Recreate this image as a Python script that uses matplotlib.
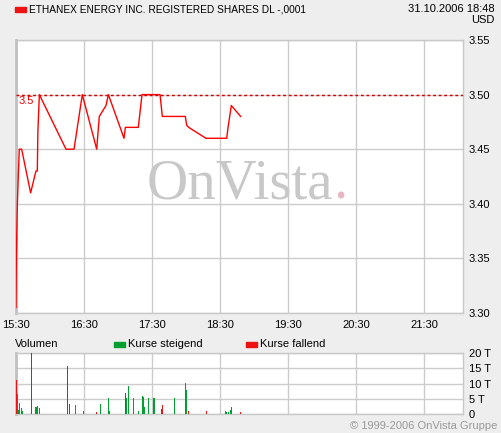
import matplotlib
matplotlib.use("Agg")
import matplotlib.pyplot as plt
from matplotlib.patches import Rectangle

plt.rcParams['font.family'] = ['Liberation Sans', 'DejaVu Sans']

# ---- data ----
title = "ETHANEX ENERGY INC. REGISTERED SHARES DL -,0001"
stamp = "31.10.2006 18:48"
currency = "USD"
hour_labels = ["15:30", "16:30", "17:30", "18:30", "19:30", "20:30", "21:30"]
price_ticks = [3.30, 3.35, 3.40, 3.45, 3.50, 3.55]
ref_price = 3.50

# minutes after 15:30
price_t = [0, 0.3, 1.2, 2.0, 2.9, 5.0, 12.9, 17.6, 18.8, 19.3, 20.6, 44.1, 51.2, 58.5,
           71.2, 73.5, 79.4, 81.5, 95.3, 96.5, 107.9, 111.2, 127.1, 129.1, 149.4,
           150.6, 152.4, 167.6, 185.9, 187.1, 190.0, 198.2]
price_v = [3.305, 3.352, 3.40, 3.425, 3.45, 3.45, 3.41, 3.43, 3.43, 3.466, 3.50, 3.45, 3.45, 3.50,
           3.45, 3.48, 3.49, 3.50, 3.46, 3.47, 3.47, 3.50, 3.50, 3.48, 3.48,
           3.472, 3.47, 3.46, 3.46, 3.47, 3.49, 3.48]

vol_t = [0, 0.9, 1.8, 2.9, 4.7, 5.6, 13.5, 17.1, 17.9, 18.8, 20.6, 45.6, 47.1, 52.6, 59.4,
         70.9, 74.4, 81.5, 82.4, 96.5, 97.4, 99.1, 103.5, 107.9, 111.5, 112.4, 113.2,
         116.8, 121.2, 122.1, 128.2, 129.1, 139.7, 149.4, 150.3, 152.1, 167.9, 184.7,
         185.6, 187.4, 189.1, 190.0, 197.9]
vol_v = [11.2, 6.6, 1.3, 3.7, 2.0, 1.1, 20.5, 2.4, 2.4, 2.7, 2.0, 15.8, 3.3, 3.1, 1.0,
         0.7, 3.3, 5.3, 1.0, 6.9, 5.3, 9.2, 5.3, 1.0, 5.9, 5.6, 2.3,
         5.3, 5.3, 5.3, 1.6, 3.0, 5.3, 10.2, 7.9, 1.0, 1.0, 1.0,
         0.8, 0.8, 1.3, 2.3, 0.7]
vol_up = [0, 1, 1, 1, 1, 1, 0, 1, 1, 1, 1, 0, 0, 1, 1,
          0, 1, 1, 1, 0, 1, 1, 1, 1, 1, 1, 1,
          1, 1, 1, 0, 0, 1, 1, 1, 0, 0, 1,
          1, 1, 1, 1, 0]
vol_ticks = [0, 5, 10, 15, 20]
vol_labels = ["0", "5 T", "10 T", "15 T", "20 T"]

# ---- layout ----
W, H = 501, 433
fig = plt.figure(figsize=(W / 100, H / 100), dpi=100)
fig.patch.set_facecolor('#eeeeee')

def ax_px(l, t, r, b):
    return fig.add_axes([l / W, 1 - b / H, (r - l) / W, (b - t) / H])

GRID = '#cccccc'
XMAX = (463 - 16) * 60 / 68
hour_pos = [60 * i for i in range(len(hour_labels))]

def style(ax):
    ax.set_facecolor('white')
    for s in ax.spines.values():
        s.set_color('#c8c8c8')
        s.set_linewidth(1)
    ax.spines['left'].set_color('#c0c0c0')
    ax.spines['left'].set_linewidth(2)
    ax.yaxis.tick_right()
    ax.tick_params(axis='both', length=0, labelsize=8, colors='black')
    ax.tick_params(axis='y', pad=4)
    ax.set_xlim(0, XMAX)
    ax.set_xticks(hour_pos)
    ax.grid(True, color=GRID, linewidth=1)
    ax.set_axisbelow(True)

ax = ax_px(16, 40, 463, 313)
style(ax)
ax.set_ylim(3.30, 3.55)
ax.set_yticks(price_ticks)
ax.set_yticklabels([f"{v:.2f}" for v in price_ticks])
ax.set_xticklabels(hour_labels)
ax.tick_params(axis='x', pad=5)

# watermark
ax.text(0.709, 0.42, "OnVista", transform=ax.transAxes, ha='right', va='baseline',
        fontsize=41, family='Liberation Serif', color='#c8c8c8', zorder=1)
ax.text(0.709, 0.42, ".", transform=ax.transAxes, ha='left', va='baseline',
        fontsize=41, family='Liberation Serif', color='#e8b8c4', zorder=1)

ax.axhline(ref_price, color='#cc0000', linestyle=(0, (2, 2)), linewidth=1, zorder=3)
ax.text(2, ref_price - 0.001, "3.5", color='#ee0000', fontsize=8, va='top', ha='left')
ax.plot(price_t, price_v, color='#ff0000', linewidth=1, zorder=4)

vx = ax_px(16, 353, 463, 414)
style(vx)
vx.set_ylim(0, 20)
vx.set_yticks(vol_ticks)
vx.set_yticklabels(vol_labels)
vx.set_xticklabels([])
vcol = ['#00a030' if u else '#ee1111' for u in vol_up]
vx.bar(vol_t, vol_v, width=0.9, color=vcol, align='center', zorder=3)

# header texts
fig.patches.append(Rectangle((15 / W, 1 - 12 / H), 11 / W, 5 / H, transform=fig.transFigure,
                             color='#ee1111', figure=fig))
fig.text(29 / W, 1 - 9.5 / H, title, fontsize=7.3, va='center', ha='left')
fig.text(495 / W, 1 - 9 / H, stamp, fontsize=8, va='center', ha='right')
fig.text(495 / W, 1 - 20 / H, currency, fontsize=8, va='center', ha='right')

fig.text(15 / W, 1 - 344 / H, "Volumen", fontsize=8, va='center', ha='left')
fig.patches.append(Rectangle((114 / W, 1 - 346.5 / H), 11 / W, 5 / H, transform=fig.transFigure,
                             color='#00a030', figure=fig))
fig.text(128 / W, 1 - 344 / H, "Kurse steigend", fontsize=8, va='center', ha='left')
fig.patches.append(Rectangle((246 / W, 1 - 346.5 / H), 11 / W, 5 / H, transform=fig.transFigure,
                             color='#ee1111', figure=fig))
fig.text(260 / W, 1 - 344 / H, "Kurse fallend", fontsize=8, va='center', ha='left')

fig.text(497 / W, 1 - 426 / H, "\u00a9 1999-2006 OnVista Gruppe", fontsize=8, va='center',
         ha='right', color='#999999')

fig.savefig("out.png", dpi=100, facecolor=fig.get_facecolor())
